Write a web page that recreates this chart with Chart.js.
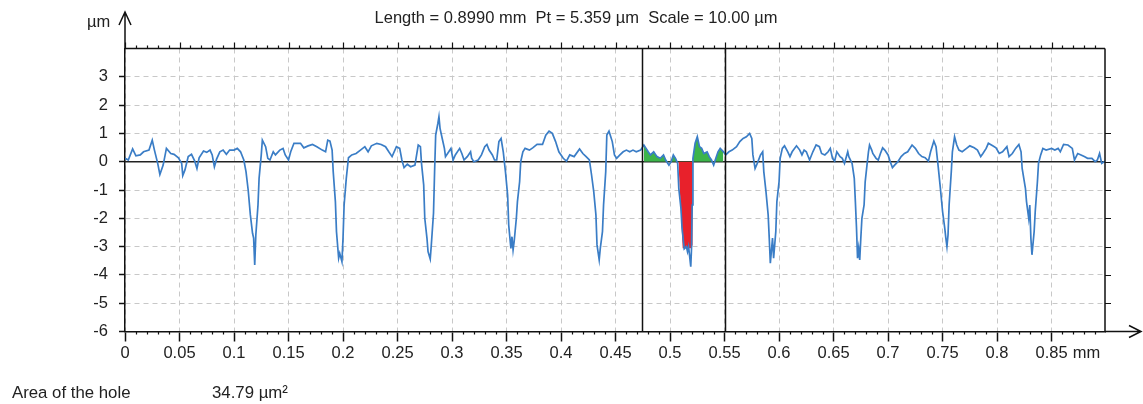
<!DOCTYPE html>
<html lang="en">
<head>
<meta charset="UTF-8">
<title>Profile - Area of the hole</title>
<script src="https://cdn.jsdelivr.net/npm/chart.js"></script>
<style>
    body { margin: 0; background: #fff; }
    #wrap { width: 1143px; height: 404px; }
</style>
</head>
<body>
<div id="wrap"><canvas id="profileChart" width="1143" height="404"></canvas></div>
<script>
// profile: x in mm, y in µm
const profileX = [
    0, 0.003, 0.007, 0.010, 0.014, 0.017, 0.022, 0.025, 0.027, 0.030, 0.032, 0.035, 0.038, 0.042, 0.045, 0.049,
    0.052, 0.053, 0.055, 0.058, 0.061, 0.064, 0.066, 0.068, 0.072, 0.075, 0.078, 0.080, 0.082, 0.084, 0.087, 0.090,
    0.093, 0.096, 0.100, 0.103, 0.106, 0.109, 0.111, 0.113, 0.115, 0.117, 0.118, 0.119, 0.120, 0.122, 0.123, 0.125,
    0.126, 0.129, 0.131, 0.133, 0.136, 0.138, 0.142, 0.145, 0.147, 0.150, 0.152, 0.155, 0.161, 0.164, 0.168, 0.172,
    0.176, 0.181, 0.184, 0.186, 0.188, 0.190, 0.191, 0.193, 0.194, 0.196, 0.197, 0.199, 0.200, 0.201, 0.203, 0.205,
    0.208, 0.212, 0.216, 0.220,
    0.223, 0.226, 0.231, 0.235, 0.239, 0.242, 0.245, 0.249, 0.252, 0.254, 0.256, 0.259, 0.262, 0.266, 0.267, 0.269,
    0.271, 0.272, 0.274, 0.275, 0.277, 0.278, 0.280, 0.281, 0.283, 0.284, 0.285, 0.287, 0.288, 0.289, 0.291, 0.293,
    0.294, 0.297, 0.299, 0.301, 0.303, 0.307, 0.309, 0.311, 0.314, 0.317, 0.318, 0.320, 0.324, 0.327, 0.330, 0.332,
    0.334, 0.337, 0.339, 0.341, 0.343, 0.345, 0.347, 0.349, 0.351, 0.352, 0.354, 0.355, 0.356, 0.357, 0.359, 0.360,
    0.362, 0.363, 0.365, 0.367, 0.371, 0.374, 0.378, 0.383, 0.386, 0.389, 0.392, 0.395, 0.398, 0.402, 0.405, 0.408,
    0.412, 0.417, 0.420, 0.423, 0.426, 0.428, 0.430, 0.432, 0.433, 0.435, 0.436, 0.438, 0.439, 0.441, 0.442, 0.444,
    0.447, 0.449, 0.451, 0.454, 0.457, 0.460, 0.463, 0.466, 0.469, 0.473, 0.476, 0.478, 0.480, 0.482, 0.485, 0.488,
    0.491, 0.494, 0.496, 0.499, 0.501, 0.503, 0.505, 0.507, 0.508, 0.510, 0.511, 0.513, 0.515, 0.516, 0.517, 0.519,
    0.5197, 0.5203, 0.521, 0.523, 0.525, 0.527, 0.529, 0.531, 0.534, 0.536, 0.538, 0.540, 0.542, 0.544, 0.546, 0.549,
    0.551, 0.554, 0.557, 0.561, 0.564, 0.567, 0.570, 0.573, 0.575, 0.576, 0.578, 0.580, 0.583, 0.585, 0.586, 0.588,
    0.590, 0.591, 0.592, 0.594, 0.595, 0.597, 0.598, 0.600, 0.601, 0.603, 0.605, 0.608, 0.610, 0.612, 0.616, 0.619,
    0.621, 0.623, 0.625, 0.628, 0.631, 0.634, 0.637, 0.639, 0.642, 0.645, 0.647, 0.649, 0.651, 0.653, 0.656, 0.658,
    0.660, 0.663, 0.664, 0.667, 0.669,
    0.670, 0.671, 0.672, 0.673, 0.674, 0.675, 0.676, 0.678, 0.679, 0.681, 0.682, 0.683, 0.685, 0.686, 0.689, 0.691,
    0.693, 0.695, 0.697, 0.700, 0.702, 0.704, 0.706, 0.709, 0.712, 0.715, 0.718, 0.722, 0.725, 0.728, 0.731, 0.734,
    0.737, 0.739, 0.742, 0.744, 0.746, 0.748, 0.750, 0.752, 0.753, 0.754, 0.755, 0.756, 0.758, 0.759, 0.761, 0.763,
    0.765, 0.768, 0.772, 0.775, 0.779, 0.782, 0.785, 0.787, 0.790, 0.792, 0.796, 0.799, 0.802, 0.805, 0.809, 0.811,
    0.814, 0.817, 0.820, 0.822, 0.823, 0.826, 0.827, 0.829, 0.830, 0.831, 0.832, 0.834, 0.835, 0.837, 0.838, 0.840,
    0.842, 0.845, 0.850, 0.853, 0.856, 0.858, 0.861, 0.865, 0.869, 0.871, 0.874, 0.877, 0.880, 0.883, 0.887, 0.890,
    0.892, 0.894, 0.896, 0.899
];
const profileY = [
    0.12, 0.06, 0.45, 0.21, 0.24, 0.35, 0.41, 0.76, 0.41, -0.06, -0.45, -0.12, 0.47, 0.29, 0.26, 0.14,
    -0.06, -0.49, -0.29, 0.18, 0.26, 0.02, -0.24, 0.14, 0.38, 0.33, 0.41, 0.24, -0.18, 0.09, 0.35, 0.41,
    0.26, 0.41, 0.41, 0.47, 0.35, 0.06, -0.35, -1.0, -1.88, -2.53, -2.7, -3.65, -2.6, -1.53, -0.59, 0.24,
    0.76, 0.53, 0.12, 0.06, 0.35, 0.24, 0.41, 0.47, 0.24, 0.06, 0.35, 0.65, 0.65, 0.49, 0.56, 0.61,
    0.53, 0.41, 0.35, 0.76, 0.73, 0.41, -0.35, -1.41, -2.47, -3.41, -3.24, -3.53, -2.7, -1.53, -0.59, 0.14,
    0.24, 0.29, 0.41, 0.53,
    0.35, 0.56, 0.65, 0.61, 0.53, 0.35, 0.18, 0.53, 0.47, 0.06, -0.21, -0.09, -0.18, -0.12, 0.12, 0.59,
    0.53, -0.06, -0.82, -2.0, -2.7, -3.18, -3.44, -2.94, -1.82, -0.35, 0.94, 1.35, 1.59, 1.18, 0.82, 0.47,
    0.18, 0.35, 0.47, 0.06, 0.24, 0.47, 0.29, 0.06, 0.18, 0.35, 0.12, 0.0, 0.06, 0.24, 0.53, 0.61,
    0.41, 0.24, 0.06, 0.06, 0.71, 0.82, 0.35, -0.35, -1.18, -2.24, -3.06, -2.65, -3.12, -2.82, -2.0, -1.41,
    -0.71, 0.0, 0.35, 0.47, 0.41, 0.49, 0.61, 0.61, 0.94, 1.08, 1.0, 0.71, 0.35, 0.12, 0.02, 0.24,
    0.18, 0.45, 0.29, 0.18, 0.06, -0.47, -1.06, -1.88, -2.94, -3.47, -3.06, -2.47, -1.53, -0.35, 0.94, 1.08,
    0.71, 0.24, 0.12, 0.24, 0.35, 0.41, 0.35, 0.41, 0.35, 0.41, 0.59, 0.47, 0.35, 0.24, 0.35, 0.18,
    0.12, 0.24, 0.06, -0.12, 0.0, 0.24, 0.12, -0.06, -0.94, -1.65, -2.35, -3.08, -3.0, -3.18, -3.0, -3.71,
    -3.06, -1.53, 0.12, 0.65, 0.88, 0.53, 0.47, 0.29, 0.35, 0.18, 0.06, -0.12, 0.12, 0.35, 0.47, 0.35,
    0.24, 0.35, 0.41, 0.53, 0.71, 0.82, 0.88, 1.0, 0.82, 0.24, -0.24, -0.06, 0.24, 0.35, -0.35, -1.06,
    -1.88, -2.7, -3.59, -2.7, -3.41, -2.47, -1.41, -0.71, 0.12, 0.47, 0.56, 0.35, 0.18, 0.35, 0.56, 0.41,
    0.24, 0.41, 0.35, 0.06, 0.35, 0.59, 0.53, 0.29, 0.24, 0.35, 0.47, 0.12, 0.02, 0.35, 0.18, 0.12,
    -0.06, 0.35, 0.18, -0.06, -0.59,
    -1.41, -2.3, -3.41, -3.06, -3.47, -2.7, -2.0, -1.53, -0.71, 0.0, 0.35, 0.59, 0.41, 0.29, 0.12, 0.06,
    0.29, 0.49, 0.41, 0.24, 0.0, -0.21, -0.12, 0.0, 0.18, 0.29, 0.35, 0.59, 0.47, 0.29, 0.18, 0.14,
    0.02, 0.35, 0.73, 0.53, -0.18, -0.94, -1.76, -2.35, -2.7, -3.0, -2.59, -1.53, -0.35, 0.35, 0.88, 0.59,
    0.41, 0.35, 0.47, 0.56, 0.49, 0.41, 0.18, 0.29, 0.47, 0.65, 0.56, 0.49, 0.29, 0.35, 0.53, 0.18,
    0.29, 0.47, 0.61, 0.35, -0.24, -0.94, -1.41, -2.0, -1.53, -2.7, -3.29, -2.47, -1.76, -0.71, -0.06, 0.24,
    0.47, 0.41, 0.47, 0.41, 0.47, 0.35, 0.61, 0.59, 0.47, 0.06, 0.29, 0.24, 0.18, 0.12, 0.12, 0.0,
    0.06, 0.29, -0.06, 0.02
];

// cursor positions (mm) and the hole outline between them
const cursorX = [0.4746, 0.5504];
const holeX = [0.5077, 0.5098, 0.5116, 0.5190, 0.5208, 0.5208];
const holeY = [0, -1.65, -3.06, -3.06, -2.94, 0];

const xTickValues = [0, 0.05, 0.1, 0.15, 0.2, 0.25, 0.3, 0.35, 0.4, 0.45, 0.5, 0.55, 0.6, 0.65, 0.7, 0.75, 0.8, 0.85];
const xTickLabels = ['0', '0.05', '0.1', '0.15', '0.2', '0.25', '0.3', '0.35', '0.4', '0.45', '0.5', '0.55', '0.6', '0.65', '0.7', '0.75', '0.8', '0.85'];
const yTickValues = [-6, -5, -4, -3, -2, -1, 0, 1, 2, 3];
const yTickLabels = ['-6', '-5', '-4', '-3', '-2', '-1', '0', '1', '2', '3'];

const headerText = 'Length = 0.8990 mm  Pt = 5.359 µm  Scale = 10.00 µm';
const holeLabel = 'Area of the hole';
const holeArea = '34.79 µm²';

const FONT = '"Liberation Sans", Arial, sans-serif';
const FSIZE = 16.5;
const TXT = '#222';

const profilePts = profileX.map((x, i) => ({ x: x, y: profileY[i] }));
const cursorPts = profilePts.filter(p => p.x >= cursorX[0] && p.x <= cursorX[1]);
const holePts = holeX.map((x, i) => ({ x: x, y: holeY[i] }));

// axes extras, cursors and texts
const decorations = {
    id: 'decorations',
    beforeDatasetsDraw(chart) {
        const { ctx, chartArea: a, scales: { y } } = chart;
        const y0 = y.getPixelForValue(0);
        ctx.save();
        ctx.strokeStyle = '#222';
        ctx.lineWidth = 1.5;
        ctx.beginPath();
        ctx.moveTo(a.left, y0);
        ctx.lineTo(a.right, y0);
        ctx.stroke();
        ctx.restore();
    },
    afterDraw(chart) {
        const { ctx, chartArea: a, scales: { x, y } } = chart;
        ctx.save();
        ctx.strokeStyle = '#111';
        ctx.lineWidth = 1.5;

        // cursors
        cursorX.forEach(c => {
            const px = Math.round(x.getPixelForValue(c)) + 0.5;
            ctx.beginPath();
            ctx.moveTo(px, a.top);
            ctx.lineTo(px, a.bottom);
            ctx.stroke();
        });

        // top frame and right frame
        ctx.beginPath();
        ctx.moveTo(a.left, a.top);
        ctx.lineTo(a.right, a.top);
        ctx.moveTo(a.right, a.top);
        ctx.lineTo(a.right, a.bottom);
        ctx.stroke();

        // minor / major ticks on top and minor ticks at bottom
        ctx.lineWidth = 1.2;
        ctx.beginPath();
        for (let i = 0; i <= 89; i++) {
            const px = Math.round(x.getPixelForValue(i / 100)) + 0.5;
            const major = i % 5 === 0;
            ctx.moveTo(px, a.top);
            ctx.lineTo(px, a.top - (major ? 6 : 3));
            if (!major) {
                ctx.moveTo(px, a.bottom);
                ctx.lineTo(px, a.bottom + 3);
            }
        }
        // right frame ticks
        yTickValues.forEach(v => {
            if (v === -6) return;
            const py = Math.round(y.getPixelForValue(v)) + 0.5;
            ctx.moveTo(a.right, py);
            ctx.lineTo(a.right + 6, py);
        });
        ctx.stroke();

        // axis extensions with arrows
        ctx.lineWidth = 1.5;
        ctx.beginPath();
        ctx.moveTo(a.left, a.top);
        ctx.lineTo(a.left, 12);
        ctx.moveTo(a.left - 6, 25);
        ctx.lineTo(a.left, 12);
        ctx.lineTo(a.left + 6, 25);
        ctx.moveTo(a.right, a.bottom);
        ctx.lineTo(1141, a.bottom);
        ctx.moveTo(1129, a.bottom - 6);
        ctx.lineTo(1141, a.bottom);
        ctx.lineTo(1129, a.bottom + 6);
        ctx.stroke();

        // texts
        ctx.fillStyle = TXT;
        ctx.font = FSIZE + 'px ' + FONT;
        ctx.textBaseline = 'alphabetic';
        ctx.textAlign = 'center';
        ctx.fillText(headerText, 576, 23);
        ctx.textAlign = 'left';
        ctx.fillText('µm', 87, 27);
        ctx.font = '16.8px ' + FONT;
        ctx.fillText(holeLabel, 12, 398);
        ctx.fillText(holeArea, 212, 398);

        // unit after the last x label, on the tick label line
        ctx.font = FSIZE + 'px ' + FONT;
        ctx.textBaseline = 'middle';
        const lx = x.getPixelForValue(0.85) + ctx.measureText('0.85').width / 2 + 5;
        ctx.fillText('mm', lx, a.bottom + 12 + FSIZE * 0.6);
        ctx.restore();
    }
};

const ctx = document.getElementById('profileChart').getContext('2d');
const profileChart = new Chart(ctx, {
    type: 'line',
    data: {
        datasets: [{
            data: profilePts,
            borderColor: '#3a7dc6',
            borderWidth: 1.7,
            pointRadius: 0,
            fill: false,
            tension: 0
        }, {
            data: cursorPts,
            borderWidth: 0,
            borderColor: 'rgba(0,0,0,0)',
            pointRadius: 0,
            fill: { target: 'origin', above: '#3cb44a', below: 'rgba(0,0,0,0)' }
        }, {
            data: holePts,
            borderWidth: 0,
            borderColor: 'rgba(0,0,0,0)',
            pointRadius: 0,
            fill: { target: 'origin', above: '#e8212b', below: '#e8212b' }
        }]
    },
    options: {
        responsive: false,
        animation: false,
        devicePixelRatio: 1,
        layout: { padding: { top: 48.5, right: 38, left: 0, bottom: 0 } },
        plugins: { legend: { display: false }, tooltip: { enabled: false } },
        scales: {
            x: {
                type: 'linear',
                min: 0,
                max: 0.899,
                afterBuildTicks: s => { s.ticks = xTickValues.map(v => ({ value: v })); },
                afterFit: s => { s.height = 72.5; },
                ticks: {
                    autoSkip: false,
                    maxRotation: 0,
                    padding: 2,
                    color: TXT,
                    font: { family: FONT, size: FSIZE },
                    callback: (v, i) => xTickLabels[i]
                },
                grid: {
                    color: '#c8c8c8',
                    lineWidth: 1,
                    tickLength: 10,
                    tickColor: '#111',
                    tickWidth: 1.5
                },
                border: { color: '#111', width: 1.5, dash: [5, 4] }
            },
            y: {
                min: -6,
                max: 4,
                afterBuildTicks: s => { s.ticks = yTickValues.map(v => ({ value: v })); },
                afterFit: s => { s.width = 125; },
                ticks: {
                    padding: 11,
                    color: TXT,
                    font: { family: FONT, size: FSIZE },
                    callback: (v, i) => yTickLabels[i]
                },
                grid: {
                    color: '#c8c8c8',
                    lineWidth: 1,
                    tickLength: 6,
                    tickColor: '#111',
                    tickWidth: 1.5
                },
                border: { color: '#111', width: 1.5, dash: [5, 4] }
            }
        }
    },
    plugins: [decorations]
});
</script>
</body>
</html>
